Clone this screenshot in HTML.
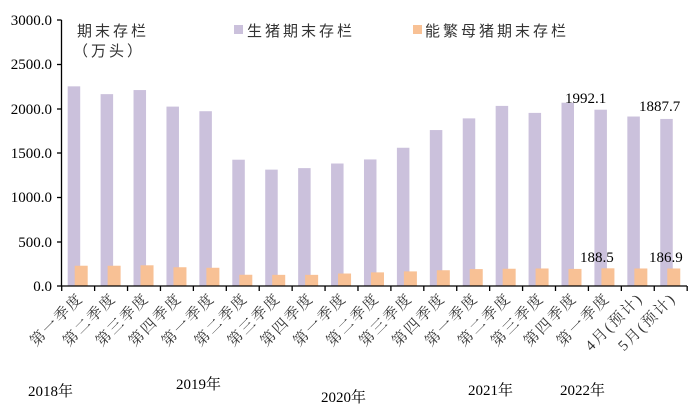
<!DOCTYPE html>
<html><head><meta charset="utf-8"><style>
html,body{margin:0;padding:0;background:#fff;}
svg{display:block;font-family:"Liberation Serif","Noto Serif CJK SC","Noto Sans CJK SC",serif;}
</style></head><body>
<svg width="693" height="414" viewBox="0 0 693 414" xmlns="http://www.w3.org/2000/svg">
<g id="bars"></g>
<g font-size="15" fill="#000" text-anchor="end">
<text x="52" y="291">0.0</text>
<text x="52" y="247">500.0</text>
<text x="52" y="202">1000.0</text>
<text x="52" y="158">1500.0</text>
<text x="52" y="114">2000.0</text>
<text x="52" y="69">2500.0</text>
<text x="52" y="25">3000.0</text>
</g>
<line x1="61.5" y1="20" x2="61.5" y2="286" stroke="#000" stroke-width="1.3"/>
<line x1="61.5" y1="286" x2="687" y2="286" stroke="#000" stroke-width="1.3"/>
<g stroke="#000" stroke-width="1.3">
<line x1="57" y1="286" x2="61.5" y2="286"/><line x1="57" y1="242" x2="61.5" y2="242"/><line x1="57" y1="197.5" x2="61.5" y2="197.5"/><line x1="57" y1="153" x2="61.5" y2="153"/><line x1="57" y1="109" x2="61.5" y2="109"/><line x1="57" y1="64.5" x2="61.5" y2="64.5"/><line x1="57" y1="20" x2="61.5" y2="20"/>
</g>
<g id="ticks" stroke="#000" stroke-width="1.3"></g>
<g id="cats" font-size="15" fill="#333" letter-spacing="2"></g>
<g font-size="15" fill="#333" font-family="Liberation Sans,Noto Sans CJK SC,sans-serif" letter-spacing="3">
<text x="77" y="36">期末存栏</text>
<text x="73" y="56">（万头）</text>
<rect x="234" y="25" width="9" height="9" fill="#cbc1dc"/>
<text x="247" y="36">生猪期末存栏</text>
<rect x="413" y="25" width="9" height="9" fill="#f8c195"/>
<text x="425" y="36">能繁母猪期末存栏</text>
</g>
<g font-size="15" fill="#000">
<text x="565" y="103">1992.1</text>
<text x="639" y="111">1887.7</text>
<text x="580" y="262">188.5</text>
<text x="649" y="262">186.9</text>
<text x="28" y="396">2018年</text>
<text x="176" y="389">2019年</text>
<text x="321" y="402">2020年</text>
<text x="468" y="395">2021年</text>
<text x="560" y="395">2022年</text>
</g>
<script>
var p=[2256,2168,2214,2027,1975,1427,1315,1332,1384,1430,1562,1762,1894,2035,1956,2071,1992.1,1915,1887.7];
var o=[229,229,234,212,206,127,126,126,141,154,165,178,191,195,198,193,200,198,198];
var c=["第一季度","第二季度","第三季度","第四季度","第一季度","第二季度","第三季度","第四季度","第一季度","第二季度","第三季度","第四季度","第一季度","第二季度","第三季度","第四季度","第一季度","4月(预计)","5月(预计)"];
var ns="http://www.w3.org/2000/svg",k=0.0885,z=286,w=32.92,x0=61.7;
var b=document.getElementById("bars"),t=document.getElementById("ticks"),cg=document.getElementById("cats");
function el(n,a,par){var e=document.createElementNS(ns,n);for(var q in a)e.setAttribute(q,a[q]);par.appendChild(e);return e;}
for(var i=0;i<19;i++){var x=x0+i*w;
el("rect",{x:x+6,y:z-p[i]*k,width:12.5,height:p[i]*k,fill:"#cbc1dc"},b);
el("rect",{x:x+13,y:z-o[i]*k,width:13,height:o[i]*k,fill:"#f8c195"},b);
el("line",{x1:x,y1:z,x2:x,y2:z+5},t);
var cx=x+w/2+6,cy=z+13;
var tx=el("text",{x:0,y:0,"text-anchor":"end",transform:"translate("+cx+","+cy+") rotate(-45)"},cg);tx.textContent=c[i];}
el("line",{x1:x0+19*w,y1:z,x2:x0+19*w,y2:z+5},t);
</script>
</svg>
</body></html>
